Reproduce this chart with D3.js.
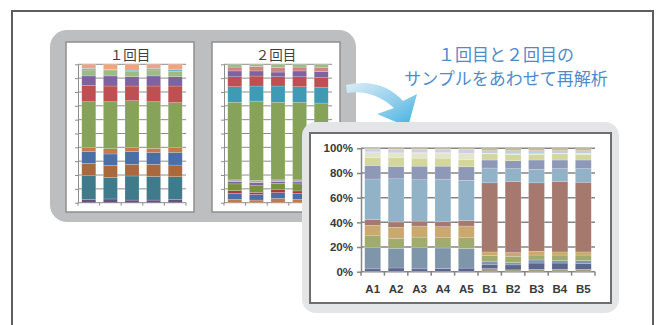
<!DOCTYPE html>
<html>
<head>
<meta charset="utf-8">
<script src="https://cdn.jsdelivr.net/npm/d3@7"></script>
<style>
  html, body { margin: 0; padding: 0; background: #ffffff; }
  svg { display: block; }
</style>
</head>
<body>
<svg id="fig" width="660" height="325"></svg>
<script>
// ---------- first run (１回目) ----------
const run1Samples = ["1", "2", "3", "4", "5"];
const run1Keys = ["r1a", "r1b", "r1c", "r1d", "r1e", "r1f", "r1g", "r1h", "r1i", "r1j", "r1k"];
const run1Colors = ["#66507c", "#3f7b8b", "#a9693c", "#4a6ea6", "#c77a48", "#87a35a",
                    "#be5052", "#7e63a0", "#9dbb85", "#6fb4cf", "#f2a27c"];
const run1A = [2.4, 2.7, 1.9, 1.9, 2.4];
const run1B = [17.1, 15.6, 17.4, 17.1, 16.4];
const run1C = [8.9, 8.7, 8.4, 8.7, 8.4];
const run1D = [8.5, 8.2, 9.2, 8.7, 9.2];
const run1E = [3.1, 3.8, 3.1, 2.9, 3.6];
const run1F = [33.0, 34.0, 33.7, 33.7, 32.3];
const run1G = [11.8, 11.3, 10.6, 11.3, 12.0];
const run1H = [6.8, 7.3, 6.7, 7.3, 6.7];
const run1I = [4.3, 4.3, 3.6, 4.3, 3.7];
const run1J = [1.2, 0.5, 1.2, 1.2, 1.7];
const run1K = [2.9, 3.6, 4.2, 2.9, 3.6];

// ---------- second run (２回目) ----------
const run2Samples = ["1", "2", "3", "4", "5"];
const run2Keys = ["r2a", "r2b", "r2c", "r2d", "r2e", "r2f", "r2g", "r2h", "r2i", "r2j", "r2k", "r2l"];
const run2Colors = ["#c07a4c", "#4a6ea6", "#a53d40", "#77933f", "#7e63a0", "#b0aab4",
                    "#87a35a", "#3f9bb4", "#be5052", "#7e63a0", "#cf8586", "#9dbb85"];
const run2A = [2.4, 1.9, 3.1, 2.4, 2.2];
const run2B = [4.4, 4.1, 4.2, 4.4, 4.3];
const run2C = [1.9, 1.5, 2.4, 1.7, 2.0];
const run2D = [4.9, 4.8, 4.3, 5.1, 4.8];
const run2E = [1.7, 2.2, 1.3, 1.4, 1.5];
const run2F = [1.2, 1.5, 1.2, 1.5, 1.2];
const run2G = [56.1, 57.4, 56.1, 56.1, 56.0];
const run2H = [11.2, 10.9, 11.7, 11.2, 11.5];
const run2I = [7.2, 7.2, 6.7, 7.2, 7.0];
const run2J = [4.2, 3.7, 3.4, 4.2, 4.2];
const run2K = [2.8, 3.2, 3.4, 2.8, 2.8];
const run2L = [2.0, 1.6, 2.2, 2.0, 2.5];

// ---------- combined re-analysis ----------
const mixSamples = ["A1", "A2", "A3", "A4", "A5", "B1", "B2", "B3", "B4", "B5"];
const mixKeys = ["m01", "m02", "m03", "m04", "m05", "m06", "m07", "m08", "m09", "m10", "m11", "m12", "m13"];
const mixColors = ["#a39c7e", "#5a6590", "#7f95aa", "#a0ab6c", "#c9a96d", "#a5796e",
                   "#92b2c8", "#8e98b7", "#d3d79d", "#e2e5c7", "#bcd0e2", "#cfd0e1", "#cbba90"];
const mix01 = [0.3, 0.3, 0.3, 0.3, 0.3, 2.5, 1.5, 2.0, 2.0, 2.0];
const mix02 = [2.0, 2.7, 2.0, 2.2, 2.6, 3.5, 4.0, 5.0, 5.0, 4.5];
const mix03 = [17.5, 16.0, 17.2, 16.7, 15.9, 2.5, 2.0, 2.5, 2.0, 2.5];
const mix04 = [9.3, 8.0, 8.5, 8.3, 8.7, 4.5, 5.0, 4.0, 4.5, 4.5];
const mix05 = [8.5, 9.0, 9.0, 9.0, 9.5, 3.0, 3.0, 3.0, 2.5, 2.5];
const mix06 = [4.5, 4.3, 4.0, 4.0, 4.5, 56.0, 57.5, 55.5, 57.0, 56.5];
const mix07 = [33.0, 35.0, 33.5, 34.5, 32.5, 12.0, 10.5, 11.0, 10.5, 11.0];
const mix08 = [11.0, 10.0, 11.0, 10.5, 11.0, 6.5, 6.5, 7.5, 7.0, 7.0];
const mix09 = [6.5, 7.0, 6.5, 6.5, 6.0, 5.0, 5.0, 4.5, 5.0, 4.5];
const mix10 = [4.0, 3.5, 4.0, 4.0, 4.5, 0.5, 0.5, 0.5, 0.5, 1.0];
const mix11 = [0.5, 0.5, 0.5, 0.5, 0.5, 2.0, 2.5, 2.5, 2.0, 2.0];
const mix12 = [2.4, 2.7, 2.5, 2.5, 3.0, 0.0, 0.0, 0.0, 0.0, 0.0];
const mix13 = [0.5, 1.0, 1.0, 1.0, 1.0, 2.0, 2.0, 2.0, 2.0, 2.0];

const smallTicks = [0, 10, 20, 30, 40, 50, 60, 70, 80, 90, 100];
const mainTicks = [0, 20, 40, 60, 80, 100];

const titleLines = ["１回目と２回目の", "サンプルをあわせて再解析"];
const run1Title = "１回目";
const run2Title = "２回目";

// rows: one object per sample, one field per series
function rows(samples, keys, cols) {
  return samples.map((s, i) => {
    const r = { sample: s };
    keys.forEach((k, j) => { r[k] = cols[j][i]; });
    return r;
  });
}

const run1Rows = rows(run1Samples, run1Keys,
  [run1A, run1B, run1C, run1D, run1E, run1F, run1G, run1H, run1I, run1J, run1K]);
const run2Rows = rows(run2Samples, run2Keys,
  [run2A, run2B, run2C, run2D, run2E, run2F, run2G, run2H, run2I, run2J, run2K, run2L]);
const mixRows = rows(mixSamples, mixKeys,
  [mix01, mix02, mix03, mix04, mix05, mix06, mix07, mix08, mix09, mix10, mix11, mix12, mix13]);

const svg = d3.select("#fig");
const cjk = "'Noto Sans CJK JP', 'Noto Sans CJK SC', sans-serif";

// outer frame, running off the bottom edge
svg.append("rect")
  .attr("x", 12).attr("y", 11).attr("width", 641).attr("height", 400)
  .attr("fill", "#ffffff").attr("stroke", "#5e5e5e").attr("stroke-width", 2);

// grey tray holding the two run charts
svg.append("rect")
  .attr("x", 50).attr("y", 30).attr("width", 306).attr("height", 192)
  .attr("rx", 17).attr("fill", "#bdbec0");

// stacked 100% column chart
function stackedChart(g, opt) {
  const x = d3.scaleBand().domain(opt.samples)
    .range([opt.left, opt.right]).paddingInner(opt.pad).paddingOuter(opt.pad / 2);
  const y = d3.scaleLinear().domain([0, 100]).range([opt.bottom, opt.top]);
  const series = d3.stack().keys(opt.keys)(opt.rows);
  const color = d3.scaleOrdinal().domain(opt.keys).range(opt.colors);

  // horizontal gridlines
  g.append("g").selectAll("line").data(opt.ticks).join("line")
    .attr("x1", opt.left).attr("x2", opt.right)
    .attr("y1", d => y(d)).attr("y2", d => y(d))
    .attr("stroke", opt.grid).attr("stroke-width", opt.gridW);

  // bars
  g.append("g").selectAll("g").data(series).join("g")
    .attr("fill", d => color(d.key))
    .selectAll("rect").data(d => d).join("rect")
    .attr("x", d => x(d.data.sample))
    .attr("width", x.bandwidth())
    .attr("y", d => y(d[1]))
    .attr("height", d => Math.max(0, y(d[0]) - y(d[1])))
    .attr("stroke", "#ffffff").attr("stroke-opacity", 0.35).attr("stroke-width", 0.5);

  // y axis: vertical line plus short ticks to the left
  const ya = g.append("g").attr("transform", `translate(${opt.left},0)`)
    .call(d3.axisLeft(y).tickValues(opt.ticks).tickSize(opt.tick).tickSizeOuter(0)
      .tickFormat(opt.yFormat || (() => "")));
  ya.select(".domain").attr("stroke", opt.grid).attr("stroke-width", opt.gridW);
  ya.selectAll(".tick line").attr("stroke", opt.grid).attr("stroke-width", opt.gridW);
  ya.selectAll(".tick text")
    .attr("font-family", "'Liberation Sans', Arial, sans-serif")
    .attr("font-weight", "bold").attr("font-size", opt.fs || 11)
    .attr("fill", "#3a3a3a").attr("dx", -1);

  // x axis ticks sit between categories
  const step = x.step();
  g.append("g").selectAll("line").data(d3.range(opt.samples.length + 1)).join("line")
    .attr("x1", i => opt.left + i * step).attr("x2", i => opt.left + i * step)
    .attr("y1", opt.bottom).attr("y2", opt.bottom + opt.tick)
    .attr("stroke", opt.grid).attr("stroke-width", opt.gridW);

  if (opt.xLabels) {
    const xa = g.append("g").attr("transform", `translate(0,${opt.bottom})`)
      .call(d3.axisBottom(x).tickSize(0).tickPadding(opt.xPad));
    xa.select(".domain").remove();
    xa.selectAll(".tick text")
      .attr("font-family", "'Liberation Sans', Arial, sans-serif")
      .attr("font-weight", "bold").attr("font-size", opt.fs || 11)
      .attr("fill", "#3a3a3a");
  }
}

// run charts in white cards
function runCard(x0, title, samples, keys, colors, data) {
  const g = svg.append("g");
  g.append("rect").attr("x", x0).attr("y", 42).attr("width", 128).attr("height", 170)
    .attr("fill", "#ffffff").attr("stroke", "#8e8e8e").attr("stroke-width", 1.5);
  g.append("text").attr("x", x0 + 64).attr("y", 60).attr("text-anchor", "middle")
    .attr("font-family", cjk).attr("font-size", 13.5).attr("fill", "#404040")
    .text(title);
  stackedChart(g, {
    samples, keys, colors, rows: data,
    left: x0 + 12, right: x0 + 120, top: 64.3, bottom: 202.7,
    pad: 0.35, ticks: smallTicks, tick: 3, grid: "#8c8c8c", gridW: 1
  });
}

runCard(66, run1Title, run1Samples, run1Keys, run1Colors, run1Rows);
runCard(212, run2Title, run2Samples, run2Keys, run2Colors, run2Rows);

// curved arrow between the tray and the combined chart
const defs = svg.append("defs");
const grad = defs.append("linearGradient").attr("id", "arrowFill")
  .attr("x1", "0").attr("y1", "0").attr("x2", "1").attr("y2", "1");
grad.append("stop").attr("offset", "0%").attr("stop-color", "#dcedf7");
grad.append("stop").attr("offset", "55%").attr("stop-color", "#8fcdeb");
grad.append("stop").attr("offset", "100%").attr("stop-color", "#3bb0e0");
svg.append("path")
  .attr("d", "M346,85 Q381,77 403,101 L417,94 L408,127 L377,114 L394,108 Q373,89 347,93 Z")
  .attr("fill", "url(#arrowFill)");

// heading
const head = svg.append("text")
  .attr("font-family", cjk).attr("font-size", 17).attr("fill", "#4f8bcb")
  .attr("text-anchor", "middle");
head.selectAll("tspan").data(titleLines).join("tspan")
  .attr("x", 506).attr("y", (d, i) => 61 + i * 24).text(d => d);

// combined chart panel
svg.append("rect")
  .attr("x", 302).attr("y", 122).attr("width", 317).attr("height", 191)
  .attr("rx", 14).attr("fill", "#e4e5e6");
svg.append("rect")
  .attr("x", 310).attr("y", 133).attr("width", 301).attr("height", 170)
  .attr("fill", "#ffffff").attr("stroke", "#6e6e6e").attr("stroke-width", 2);

const mainG = svg.append("g");
stackedChart(mainG, {
  samples: mixSamples, keys: mixKeys, colors: mixColors, rows: mixRows,
  left: 361, right: 595, top: 148.3, bottom: 271.7,
  pad: 0.32, ticks: mainTicks, tick: 4, grid: "#858585", gridW: 1.5,
  yFormat: d => d + "%", xLabels: true, xPad: 13, fs: 11.5
});
</script>
</body>
</html>
